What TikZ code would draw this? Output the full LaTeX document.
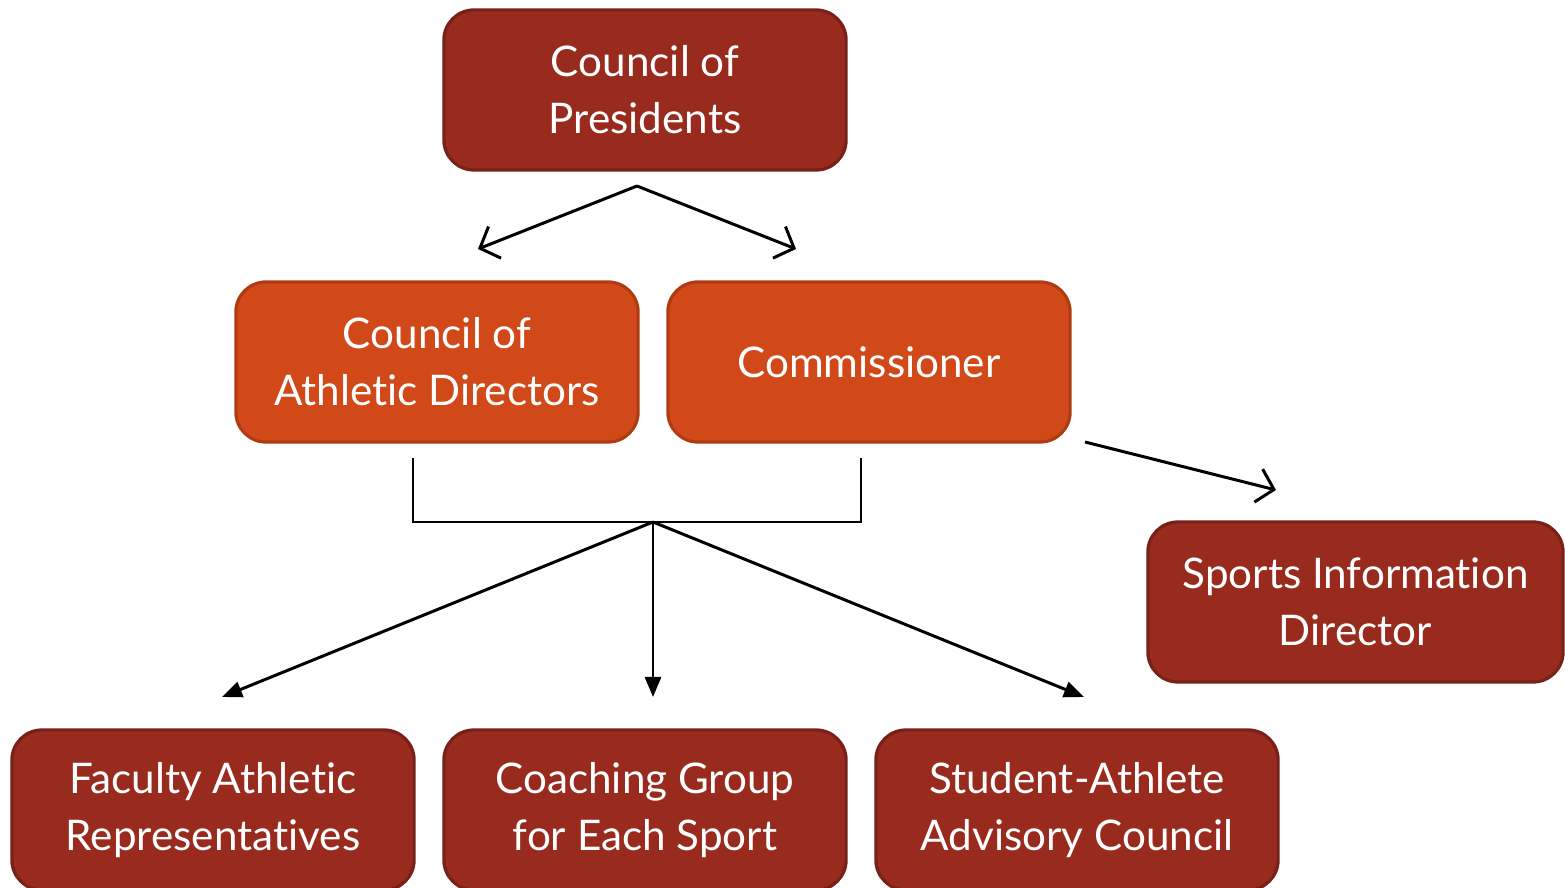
\documentclass[tikz,border=0pt]{standalone}
\usepackage{fontspec}
\setmainfont{Lato}[Ligatures={NoCommon}]
\usetikzlibrary{arrows.meta}
\definecolor{darkbox}{RGB}{153,43,30}
\definecolor{darkrim}{RGB}{120,33,24}
\definecolor{orangebox}{RGB}{209,73,25}
\definecolor{orangerim}{RGB}{176,58,18}
\begin{document}
\begin{tikzpicture}[x=0.01cm,y=-0.01cm,
	box/.style={draw=darkrim,fill=darkbox,line width=0.9pt,rounded corners=0.3cm,
		minimum width=4.02cm,minimum height=1.6cm,text=white,align=center,
		font=\fontsize{12}{16.2}\selectfont},
	obox/.style={box,draw=orangerim,fill=orangebox},
	open/.style={line width=0.85pt,-{Straight Barb[length=1.6mm,width=3.4mm]}},
	solid/.style={line width=0.85pt,-{Triangle[length=2mm,width=1.6mm]}}]
	\useasboundingbox (0,0) rectangle (1565,888);
	% Top
	\node[box] (cop) at (645,90) {Council of\\Presidents};
	% Middle row
	\node[obox] (cad) at (437,362) {Council of\\Athletic Directors};
	\node[obox] (comm) at (869,362) {Commissioner};
	\node[box,minimum width=4.15cm] (sid) at (1355.5,602) {Sports Information\\Director};
	% Bottom row
	\node[box] (far) at (213,810) {Faculty Athletic\\Representatives};
	\node[box] (cg) at (645,810) {Coaching Group\\for Each Sport};
	\node[box] (sac) at (1077,810) {Student-Athlete\\Advisory Council};
	%
	% Connectors
	\coordinate (split) at (637,186);
	\coordinate (toleft) at (478,249);
	\coordinate (toright) at (796,249);
	\draw[open] (split) -- (toleft);
	\draw[open] (split) -- (toright);
	\coordinate (cstart) at (1085,442);
	\coordinate (cend) at (1276,490);
	\draw[open] (cstart) -- (cend);
	% Bracket
	\coordinate (bl) at (413,458);
	\coordinate (br) at (861,458);
	\coordinate (join) at (653,522);
	\draw[line width=0.85pt] (bl) |- (join) -| (br);
	\coordinate (tofar) at (222,697);
	\coordinate (tocg) at (653,697);
	\coordinate (tosac) at (1084,697);
	\draw[solid] (join) -- (tofar);
	\draw[solid] (join) -- (tocg);
	\draw[solid] (join) -- (tosac);
\end{tikzpicture}
\end{document}
